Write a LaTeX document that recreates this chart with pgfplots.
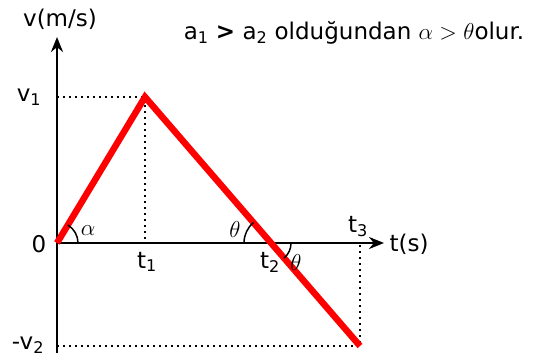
\RequirePackage{fix-cm}
\documentclass[border=0pt]{standalone}
\usepackage{fontspec}
\setmainfont{DejaVu Sans}
\usepackage{pgfplots}
\pgfplotsset{compat=1.18}
\usetikzlibrary{arrows.meta}

\begin{document}
\begin{tikzpicture}
% one unit = one pixel of the reference; origin at the axes' crossing
\begin{axis}[
  width=534pt, height=363pt, scale only axis,
  xmin=-57, xmax=477, ymin=-120, ymax=243,
  hide axis, clip=false]
\path (axis cs:-57,-120) rectangle (axis cs:477,243);

% guide lines
\addplot[black, line width=1.8pt, dash pattern=on 1.8pt off 4.2pt] coordinates {(0,146) (88,146) (88,0)};
\addplot[black, line width=1.8pt, dash pattern=on 1.8pt off 4.2pt] coordinates {(0,-103) (303,-103) (303,0)};

% axes
\draw[line width=2.8pt, -{Stealth[length=15pt,width=12pt]}] (axis cs:0,-110) -- (axis cs:0,206);
\draw[line width=2.8pt, -{Stealth[length=15pt,width=12pt]}] (axis cs:0,0) -- (axis cs:327,0);

% velocity
\addplot[red, line width=6.5pt, line join=miter] coordinates {(0,0) (88,146) (303,-103)};

% angles
\draw[line width=1.5pt] (axis cs:21,0) arc[start angle=0, end angle=59, radius=21pt];
\draw[line width=1.5pt] (axis cs:187,0) arc[start angle=180, end angle=130.8, radius=27pt];
\draw[line width=1.5pt] (axis cs:234,0) arc[start angle=0, end angle=-49.2, radius=20pt];

\begin{scope}[font=\fontsize{23}{26}\selectfont]
\node at (axis cs:3,224) {v(m/s)};
\node at (axis cs:-28,146) {v\textsubscript{1}};
\node at (axis cs:-18,-1) {0};
\node at (axis cs:-29,-102) {-v\textsubscript{2}};
\node at (axis cs:90,-19) {t\textsubscript{1}};
\node at (axis cs:213,-19) {t\textsubscript{2}};
\node at (axis cs:301,16) {t\textsubscript{3}};
\node at (axis cs:352,-1) {t(s)};
\node at (axis cs:31,12) {$\alpha$};
\node at (axis cs:178,13) {$\theta$};
\node at (axis cs:239,-20) {$\theta$};
\node at (axis cs:297,210) {a\textsubscript{1} \textbf{>} a\textsubscript{2} olduğundan $\alpha>\theta$olur.};
\end{scope}
\end{axis}
\end{tikzpicture}
\end{document}
